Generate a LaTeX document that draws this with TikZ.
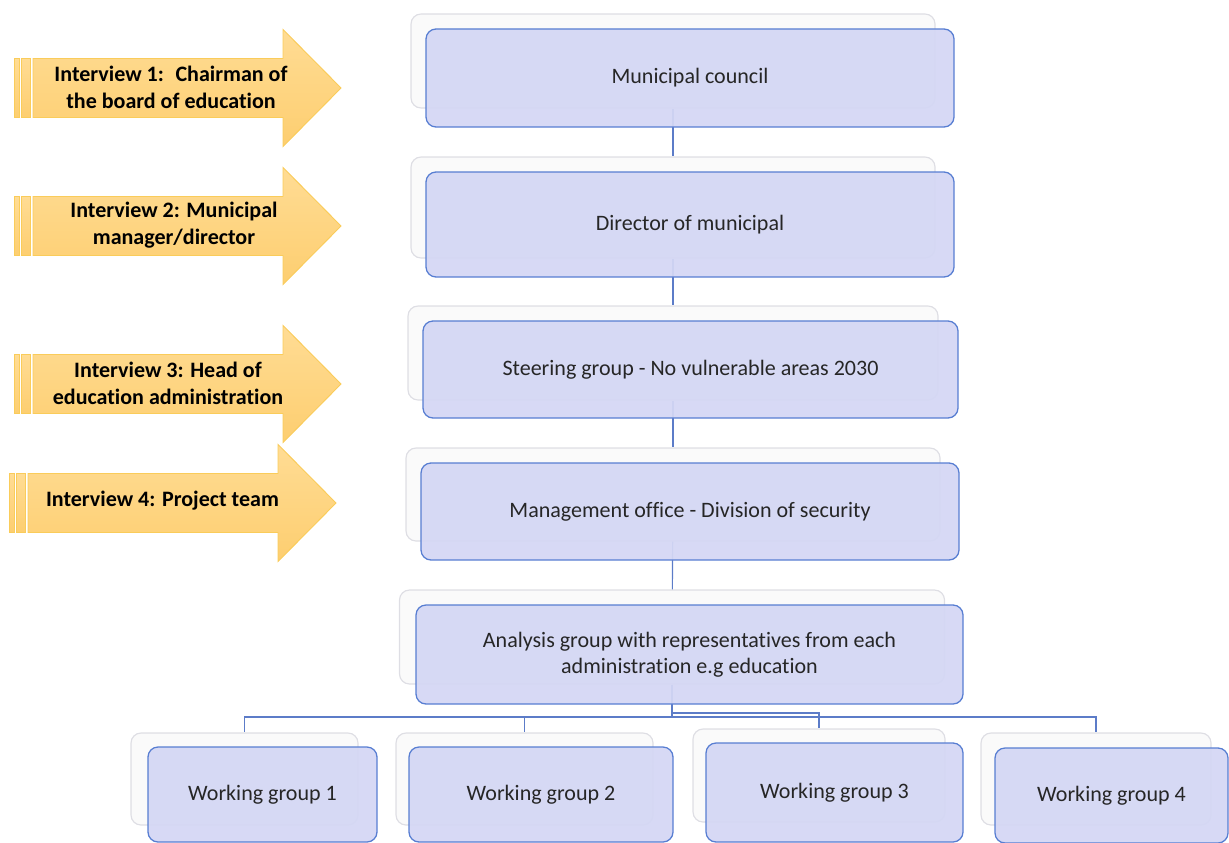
\documentclass[tikz,border=0pt]{standalone}
\usepackage{fontspec}
\setmainfont{Carlito}[RawFeature={-liga;-calt;-clig}]
\usetikzlibrary{positioning}
\pgfdeclarelayer{bg}
\pgfsetlayers{bg,main}
\definecolor{boxfill}{RGB}{212,215,244}
\definecolor{boxline}{RGB}{88,126,210}
\definecolor{linkblue}{RGB}{92,124,200}
\definecolor{arrowtop}{RGB}{255,220,148}
\definecolor{arrowbot}{RGB}{253,206,112}
\definecolor{arrowline}{RGB}{250,204,90}
\definecolor{backline}{RGB}{222,222,228}

\tikzset{
  orgbox/.style 2 args={draw=boxline, line width=1.1pt, fill=boxfill, fill opacity=0.94, text opacity=1,
    rounded corners=0.3cm, minimum width=#1*0.03cm, minimum height=#2*0.03cm, inner sep=0pt,
    align=center, text=black!85, font=\fontsize{18.8}{22}\selectfont},
  backbox/.style 2 args={draw=backline, line width=1pt, fill=gray!4, rounded corners=0.3cm,
    minimum width=#1*0.03cm, minimum height=#2*0.03cm, inner sep=0pt},
  link/.style={draw=linkblue, line width=1pt},
  ivtext/.style={align=center, inner sep=0pt, font=\bfseries\fontsize{18.8}{23}\selectfont},
}

\begin{document}
\begin{tikzpicture}[x=0.03cm, y=-0.03cm]
  \useasboundingbox (0,0) rectangle (1229,843);

  % boxes behind
  \begin{pgfonlayer}{bg}
    \node (mcb) [backbox={524}{94}] at (673,61) {};
    \node (dmb) [backbox={524}{101}] at (673,207.5) {};
    \node (sgb) [backbox={530}{94}] at (673,353) {};
    \node (mob) [backbox={534}{93}] at (673,494.5) {};
    \node (anb) [backbox={545}{94}] at (672,637) {};
    \node (wg1b) [backbox={227}{92}] at (244.5,779) {};
    \node (wg2b) [backbox={257}{92}] at (524.5,779) {};
    \node (wg3b) [backbox={252}{93}] at (819,775.5) {};
    \node (wg4b) [backbox={230}{92}] at (1096,779) {};

    \coordinate (bus) at (672,717);
    \coordinate (bus3) at (672,713);
    \draw[link] (mcb) -- (dmb);
    \draw[link] (dmb) -- (sgb);
    \draw[link] (sgb) -- (mob);
    \draw[link] (mob) -- (anb);
    \draw[link] (anb) -- (bus) -| (wg1b);
    \draw[link] (bus) -| (wg2b);
    \draw[link] (bus) -| (wg4b);
    \draw[link] (anb) -- (bus3) -| (wg3b);
  \end{pgfonlayer}

  \node (mc) [orgbox={528}{98}] at (690,78) {Municipal council};
  \node (dm) [orgbox={528}{105}] at (690,224.5) {Director of municipal};
  \node (sg) [orgbox={535}{97}] at (690.5,369.5) {Steering group - No vulnerable areas 2030};
  \node (mo) [orgbox={538}{97}] at (690,511.5) {Management office - Division of security};
  \node (an) [orgbox={547}{99}] at (689.5,654.5) {Analysis group with representatives from each\\administration e.g education};
  \node (wg1) [orgbox={229}{95}] at (262.5,794.5) {Working group 1};
  \node (wg2) [orgbox={264}{95}] at (541,794.5) {Working group 2};
  \node (wg3) [orgbox={257}{99}] at (834.5,792.5) {Working group 3};
  \node (wg4) [orgbox={233}{95}] at (1111.5,795.5) {Working group 4};

  % interview arrows
  \foreach \yc/\dx in {88/0, 226/0, 384/0, 503/-5} {
    \begin{scope}[shift={(\dx,\yc)}]
      \draw[arrowline, line width=0.6pt, top color=arrowtop, bottom color=arrowbot] (14,-29.5) rectangle (19,29.5);
      \draw[arrowline, line width=0.6pt, top color=arrowtop, bottom color=arrowbot] (21,-29.5) rectangle (30,29.5);
      \draw[arrowline, line width=0.8pt, top color=arrowtop, bottom color=arrowbot]
        (33,-29.5) -- (283,-29.5) -- (283,-58.5) -- (341,0) -- (283,58.5) -- (283,29.5) -- (33,29.5) -- cycle;
    \end{scope}
  }
  \node (iv1) [ivtext] at (171,87) {Interview 1:~ Chairman of\\the board of education};
  \node (iv2) [ivtext] at (174,225) {Interview 2: Municipal\\manager/director};
  \node (iv3) [ivtext] at (168,383) {Interview 3: Head of\\education administration};
  \node (iv4) [ivtext] at (162.5,501) {Interview 4: Project team};
\end{tikzpicture}
\end{document}
